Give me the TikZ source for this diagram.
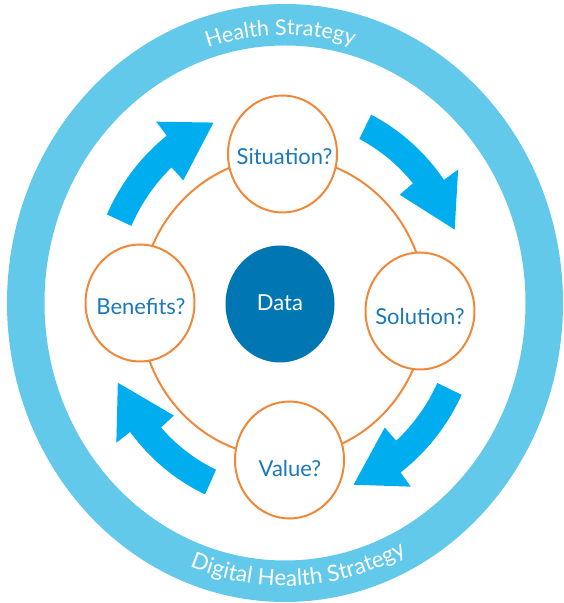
\documentclass[tikz,border=0pt]{standalone}
\usepackage{fontspec}
\setmainfont{Lato}
\usetikzlibrary{shapes.geometric,decorations.text,calc}
\definecolor{ringc}{HTML}{62C9EA}
\definecolor{arrowc}{HTML}{00ADEE}
\definecolor{datac}{HTML}{0077B3}
\definecolor{labelc}{HTML}{1B78BA}
\definecolor{orangec}{HTML}{F0883A}
\begin{document}
\begin{tikzpicture}[x=1pt,y=1pt,
  qcircle/.style={ellipse, draw=orangec, line width=2pt, fill=white, minimum width=109pt, minimum height=117pt, inner sep=0pt},
  datacircle/.style={ellipse, fill=datac, minimum width=109pt, minimum height=117pt, inner sep=0pt},
  qlabel/.style={text=labelc, font=\fontsize{22}{22}\selectfont, inner sep=0pt},
  dlabel/.style={text=white, font=\fontsize{22}{22}\selectfont, inner sep=0pt},
  flow/.style={fill=arrowc}]
\useasboundingbox (0,0) rectangle (564,603);
\coordinate (C) at (285,300);
% outer ring
\fill[ringc, even odd rule] (C) ellipse [x radius=278, y radius=299] (C) ellipse [x radius=240.5, y radius=257.5];
% ring texts
\path[decorate, decoration={text along path, text align=center,
  text={|\color{white}\fontsize{21.5}{21.5}\selectfont|Health Strategy}}]
  (C) ++(151:250 and 268) arc[start angle=151, end angle=31, x radius=250, y radius=268];
\path[decorate, decoration={text along path, text align=center,
  text={|\color{white}\fontsize{22.5}{22.5}\selectfont|Digital Health Strategy}}]
  (C) ++(213:263 and 283) arc[start angle=213, end angle=333, x radius=263, y radius=283];
% orange cycle
\draw[orangec, line width=2pt] (283,296) ellipse [x radius=143, y radius=150];
% curved block arrows
\foreach \t in {155,64,-26,-114}{
  \pgfmathsetmacro\ta{\t-28}
  \pgfmathsetmacro\tb{\t-23}
  \pgfmathsetmacro\tc{\t-42}
  \fill[flow] (C) ++(\t:196.5 and 209.5)
    arc[start angle=\t, end angle=\ta, x radius=196.5, y radius=209.5]
    -- ($(C)+(\ta:214 and 227)$)
    -- ($(C)+(\tc:183 and 196)$)
    -- ($(C)+(\tb:152 and 165)$)
    -- ($(C)+(\tb:169.5 and 182.5)$)
    arc[start angle=\tb, end angle=\t, x radius=169.5, y radius=182.5]
    -- cycle;
}
% nodes
\node[qcircle] (sit) at (282.5,449) {};
\node[qcircle] (ben) at (140,300) {};
\node[qcircle] (sol) at (420,292) {};
\node[qcircle] (val) at (289.5,143) {};
\node[datacircle] (data) at (280,299) {};
\node[qlabel] (sitl) at (284.5,446.5) {Situation?};
\node[qlabel] (benl) at (141,296.7) {Benefits?};
\node[qlabel] (soll) at (420,286.5) {Solution?};
\node[qlabel] (vall) at (290,135) {Value?};
\node[dlabel] (datal) at (280,300.5) {Data};
\end{tikzpicture}
\end{document}
